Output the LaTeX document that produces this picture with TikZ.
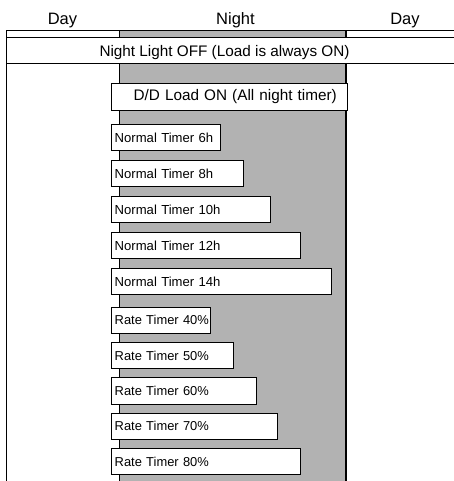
\documentclass[tikz,border=0pt]{standalone}
\usepackage{fontspec}
\setmainfont{Liberation Sans}
\usepackage{tikz}
\usetikzlibrary{positioning}

\begin{document}
\begin{tikzpicture}[x=1pt,y=-1pt,
    headtext/.style={anchor=base, font=\fontsize{16.5}{19}\selectfont},
    timerbox/.style={draw, line width=1pt, fill=white, anchor=north west,
      inner xsep=3.5pt, inner ysep=0pt, minimum height=26.3pt, align=left,
      font=\fontsize{13.1}{15}\selectfont},
    ratebox/.style={timerbox, font=\fontsize{12.9}{15}\selectfont}]
  \useasboundingbox (0,0) rectangle (454,481);

  \fill[gray!60] (119,31) rectangle (346,481);
  \draw[line width=1pt] (119,31) -- (119,481);
  \draw[line width=1.4pt] (346,31) -- (346,481);
  \draw[line width=1pt] (454,31) -- (6,31) -- (6,481);

  \node[headtext] (dayl) at (62.5,24.8) {Day};
  \node[headtext] (night) at (235.5,24.8) {Night};
  \node[headtext] (dayr) at (405,24.8) {Day};

  \draw[line width=1pt, fill=white] (6,38) rectangle (460,64);
  \node[anchor=base, font=\fontsize{15.3}{18}\selectfont] (nightoff) at (224.5,57) {Night Light OFF (Load is always ON)};

  \node[timerbox, text width=229.4pt, align=center, font=\fontsize{15.3}{18}\selectfont] (ddload) at (110.5,83.3) {\hspace*{12pt}D/D Load ON (All night timer)};

  \node[timerbox, text width=102.3pt] (nt6) at (110.7,124) {\mbox{Normal Timer 6h}};
  \node[timerbox, text width=125.6pt] (nt8) at (110.7,160) {\mbox{Normal Timer 8h}};
  \node[timerbox, text width=152.3pt] (nt10) at (110.7,196) {\mbox{Normal Timer 10h}};
  \node[timerbox, text width=182.3pt] (nt12) at (110.7,231.7) {\mbox{Normal Timer 12h}};
  \node[timerbox, text width=213pt] (nt14) at (110.7,267.7) {\mbox{Normal Timer 14h}};

  \node[ratebox, text width=92.3pt] (rt40) at (110.7,306.7) {\mbox{Rate Timer 40\%}};
  \node[ratebox, text width=115pt] (rt50) at (110.7,341.8) {\mbox{Rate Timer 50\%}};
  \node[ratebox, text width=138pt] (rt60) at (110.7,377.3) {\mbox{Rate Timer 60\%}};
  \node[ratebox, text width=159.6pt] (rt70) at (110.7,412.7) {\mbox{Rate Timer 70\%}};
  \node[ratebox, text width=182.3pt] (rt80) at (110.7,448) {\mbox{Rate Timer 80\%}};
\end{tikzpicture}
\end{document}
